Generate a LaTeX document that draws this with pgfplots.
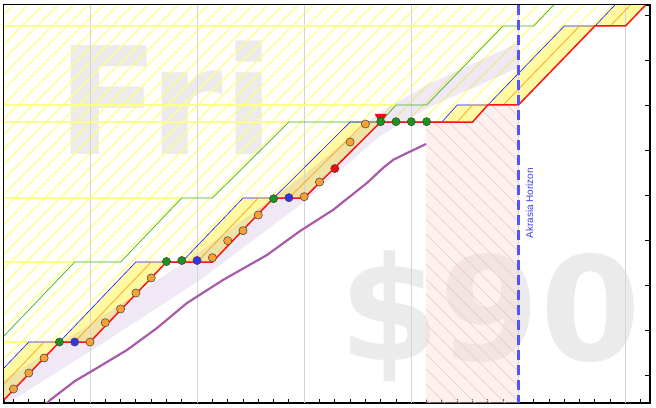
\documentclass[border=0pt]{standalone}
\usepackage{fontspec}
\setmainfont{Liberation Sans}
\newfontfamily\wmfont{DejaVu Sans}
\usepackage{pgfplots}
\usepackage{pgfplotstable}
\pgfplotsset{compat=1.18}
\usetikzlibrary{patterns}

\pgfdeclarepatternformonly{yhatch}{\pgfqpoint{-1bp}{-1bp}}{\pgfqpoint{16bp}{16bp}}{\pgfqpoint{15bp}{15bp}}{%
  \pgfsetlinewidth{1.2bp}%
  \pgfpathmoveto{\pgfqpoint{-0.5bp}{-0.5bp}}%
  \pgfpathlineto{\pgfqpoint{15.5bp}{15.5bp}}%
  \pgfusepath{stroke}%
}
\pgfdeclarepatternformonly{phatch}{\pgfqpoint{-1bp}{-1bp}}{\pgfqpoint{16bp}{16bp}}{\pgfqpoint{15bp}{15bp}}{%
  \pgfsetlinewidth{0.6bp}%
  \pgfpathmoveto{\pgfqpoint{-0.5bp}{15.5bp}}%
  \pgfpathlineto{\pgfqpoint{15.5bp}{-0.5bp}}%
  \pgfusepath{stroke}%
}

\definecolor{wm}{rgb}{0.92,0.92,0.92}
\definecolor{hatchY}{rgb}{1,1,0.53}
\definecolor{bandY}{rgb}{1,0.98,0.63}
\definecolor{pinkF}{rgb}{1,0.85,0.85}
\definecolor{pinkL}{rgb}{0.86,0.8,0.8}
\definecolor{auraC}{rgb}{0.6,0.4,0.75}
\definecolor{gridC}{rgb}{0.83,0.83,0.83}
\definecolor{roadR}{rgb}{1,0.08,0.08}
\definecolor{laneO}{rgb}{1,0.65,0.15}
\definecolor{laneB}{rgb}{0.1,0.1,1}
\definecolor{laneG}{rgb}{0.25,0.7,0.15}
\definecolor{maP}{rgb}{0.66,0.36,0.66}
\definecolor{horB}{rgb}{0.33,0.33,1}
\definecolor{horT}{rgb}{0.25,0.25,0.88}
\definecolor{dotO}{rgb}{0.97,0.63,0.2}
\definecolor{dotG}{rgb}{0.1,0.58,0.12}
\definecolor{dotB}{rgb}{0.2,0.2,0.95}
\definecolor{dotR}{rgb}{0.93,0.05,0.05}

% road (bottom edge, red line): day, value
\pgfplotstableread{
d v
-9 -0.42
-7 -0.42
-2 17.33
0 17.33
5 35.11
8 35.11
12 49.33
14 49.33
19 66.22
25 66.22
26 70.00
28 70.00
33 87.56
35 87.56
40 105.31
}\road

\pgfplotstableread{
d v
-5 6.89
-4 10.44
-3 13.78
0 17.33
1 21.62
2 24.67
3 28.22
4 31.56
8 36.07
9 39.84
10 42.07
11 45.56
14 49.62
15 52.89
17 61.78
18 65.78
}\dotsO

\pgfplotstableread{
d v
-2 17.33
5 35.22
6 35.44
12 49.18
19 66.29
20 66.29
21 66.29
22 66.29
}\dotsG

\pgfplotstableread{
d v
-1 17.33
7 35.44
13 49.40
}\dotsB

\pgfplotstableread{
d v
16 55.89
}\dotsR

\pgfplotstableread{
d v
-2.94 3.33
-2.61 4.44
-0.98 8.67
0.46 11.56
2.42 15.56
4.38 20.44
6.34 26.00
8.69 31.11
11.57 36.67
13.73 42.00
15.88 46.67
18.10 52.67
19.15 56.00
19.80 57.78
20.72 59.33
21.96 61.33
}\mavg

\begin{document}
\begin{tikzpicture}
\useasboundingbox (0,0) rectangle (656bp,408bp);
\begin{axis}[
  at={(4bp,5bp)}, anchor=south west,
  scale only axis, width=646bp, height=398bp,
  xmin=-5.62, xmax=36.6, ymin=3.78, ymax=92.22,
  xtick={0,7,...,35}, minor xtick={-5,...,36}, ytick={10,20,...,90},
  xticklabels={}, yticklabels={},
  tick align=inside, major tick length=5.5bp, minor tick length=3.5bp,
  tick style={black, line width=0.9bp},
  axis line style={black, line width=1.2bp},
  clip=true,
]
% yellow road band: region above the red line
\addplot[draw=none, fill=bandY] coordinates {(-9,-0.42) (-7,-0.42) (-2,17.33) (0,17.33) (5,35.11) (8,35.11) (12,49.33) (14,49.33) (19,66.22) (25,66.22) (26,70) (28,70) (33,87.56) (35,87.56) (40,105.31) (40,120) (-9,120)} -- cycle;
% white above the blue lane line
\addplot[draw=none, fill=white] coordinates {(-11,-0.42) (-9,-0.42) (-4,17.33) (-2,17.33) (3,35.11) (6,35.11) (10,49.33) (12,49.33) (17,66.22) (23,66.22) (24,70) (26,70) (31,87.56) (33,87.56) (38,105.31) (38,120) (-11,120)} -- cycle;

% watermarks
\node[anchor=base, inner sep=0, text=wm, font=\wmfont\bfseries\fontsize{150}{150}\selectfont] at (axis cs:4.97,58.89) {Fri};
\node[anchor=base, inner sep=0, text=wm, font=\wmfont\bfseries\fontsize{145}{145}\selectfont] at (axis cs:26.14,13.33) {\$90};

% hatched region above the road
\addplot[draw=none, pattern=yhatch, pattern color=hatchY] coordinates {(-11,-0.42) (-9,-0.42) (-4,17.33) (-2,17.33) (3,35.11) (6,35.11) (10,49.33) (12,49.33) (17,66.22) (23,66.22) (24,70) (26,70) (31,87.56) (33,87.56) (38,105.31) (38,120) (-11,120)} -- cycle;

% pink region between today and horizon
\addplot[draw=none, fill=pinkF, fill opacity=0.4] coordinates {(21.96,-10) (21.96,66.22) (25,66.22) (26,70) (28,70) (28,-10)} -- cycle;
\addplot[draw=none, pattern=phatch, pattern color=pinkL] coordinates {(21.96,-10) (21.96,66.22) (25,66.22) (26,70) (28,70) (28,-10)} -- cycle;

% aura
\addplot[draw=none, fill=auraC, fill opacity=0.15] coordinates {
(-5.88,8.22) (0.65,22.67) (7.19,37.33) (13.73,53.78) (16.99,62.67) (18.95,68.44) (22.03,74.44) (27.97,83.78)
(27.97,78.22) (22.03,69.33) (18.95,63.11) (16.99,57.33) (13.73,47.78) (7.19,31.11) (0.65,16.67) (-5.88,2.67)
} -- cycle;

% vertical grid
\addplot[gridC, line width=0.9bp] coordinates {(0,0) (0,100)};
\addplot[gridC, line width=0.9bp] coordinates {(7,0) (7,100)};
\addplot[gridC, line width=0.9bp] coordinates {(14,0) (14,100)};
\addplot[gridC, line width=0.9bp] coordinates {(21,0) (21,100)};
\addplot[gridC, line width=0.9bp] coordinates {(28,0) (28,100)};
\addplot[gridC, line width=0.9bp] coordinates {(35,0) (35,100)};

% horizontal yellow guide lines
\addplot[hatchY, line width=2bp] coordinates {(-6,17.33) (-4,17.33)};
\addplot[hatchY, line width=2bp] coordinates {(-6,35.11) (-1,35.11)};
\addplot[hatchY, line width=2bp] coordinates {(-6,49.33) (6,49.33)};
\addplot[hatchY, line width=2bp] coordinates {(-6,66.22) (13,66.22)};
\addplot[hatchY, line width=2bp] coordinates {(-6,70.00) (20,70.00)};
\addplot[hatchY, line width=2bp] coordinates {(-6,87.56) (27,87.56)};

% lanes
\addplot[laneG, line width=0.7bp] table[x expr=\thisrow{d}-6, y=v] {\road};
\addplot[laneB, line width=0.6bp] table[x expr=\thisrow{d}-2, y=v] {\road};
\addplot[laneO, line width=0.8bp] table[x expr=\thisrow{d}-1, y=v] {\road};
\addplot[roadR, line width=1.5bp] table[x=d, y=v] {\road};

% moving average
\addplot[maP, line width=2.2bp] table[x=d, y=v] {\mavg};

% akrasia horizon
\addplot[horB, line width=2.2bp, dash pattern=on 10bp off 5bp] coordinates {(28,0) (28,100)};
\node[rotate=90, text=horT, inner sep=0, font=\fontsize{10}{12}\selectfont] at (axis cs:28.73,48.2) {Akrasia Horizon};

% today marker
\addplot[only marks, mark=triangle*, mark size=6.6bp, mark options={rotate=180, fill=dotR, draw=dotR}] coordinates {(19,67.24)};

% datapoints
\addplot[only marks, mark=*, mark size=4.1bp, mark options={fill=dotO, draw=black!75, line width=0.5bp}] table[x=d, y=v] {\dotsO};
\addplot[only marks, mark=*, mark size=4.1bp, mark options={fill=dotG, draw=black!75, line width=0.5bp}] table[x=d, y=v] {\dotsG};
\addplot[only marks, mark=*, mark size=4.1bp, mark options={fill=dotB, draw=black!75, line width=0.5bp}] table[x=d, y=v] {\dotsB};
\addplot[only marks, mark=*, mark size=4.1bp, mark options={fill=dotR, draw=black!75, line width=0.5bp}] table[x=d, y=v] {\dotsR};
\end{axis}
\end{tikzpicture}
\end{document}
